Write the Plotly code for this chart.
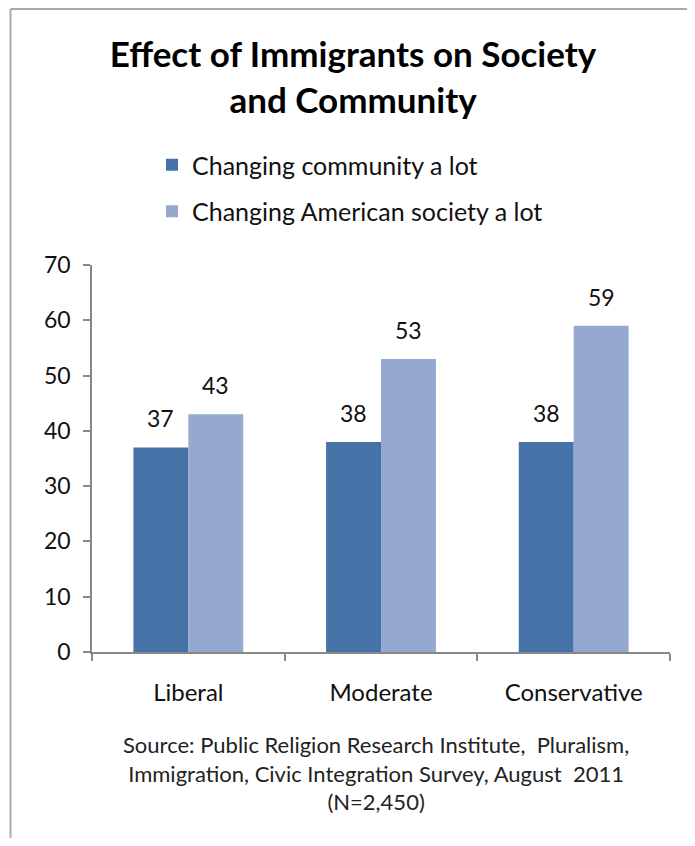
import plotly.graph_objects as go

categories = ["Liberal", "Moderate", "Conservative"]
community = [37, 38, 38]
society = [43, 53, 59]
series_names = ["Changing community a lot", "Changing American society a lot"]
y_ticks = [0, 10, 20, 30, 40, 50, 60, 70]

DARK = "#4572A7"
LIGHT = "#95A9D0"
FONT = "Lato"

OFF = 8  # page (body) margin around the figure in the browser window
W, H = 695 - 2 * OFF, 846 - 2 * OFF

# plot-area geometry (figure pixels)
L, T = 92 - OFF, 265 - OFF
RGT, BOT = 670 - OFF, 652 - OFF
R, B = W - RGT, H - BOT
PW, PH = RGT - L, BOT - T

def px_x(x):
    return (x - OFF - L) / PW

def px_y(y):
    return (BOT - (y - OFF)) / PH

fig = go.Figure()
fig.add_trace(go.Bar(x=categories, y=community, name=series_names[0],
                     marker=dict(color=DARK, line=dict(width=0)),
                     legendgroup="a"))
fig.add_trace(go.Bar(x=categories, y=society, name=series_names[1],
                     marker=dict(color=LIGHT, line=dict(width=0)),
                     legendgroup="b"))

annotations = []
for vals, shift in ((community, -27.5), (society, 27.5)):
    for c, v in zip(categories, vals):
        annotations.append(dict(x=c, y=v, text=str(v), showarrow=False,
                                xshift=shift, yshift=29, xref="x", yref="y",
                                font=dict(family=FONT, size=23, color="#111")))

annotations.append(dict(
    x=px_x(376), y=px_y(729), xref="paper", yref="paper",
    text="Source: Public Religion Research Institute,  Pluralism,<br>"
         "Immigration, Civic Integration Survey, August  2011<br>(N=2,450)",
    showarrow=False, align="center", xanchor="center", yanchor="top",
    font=dict(family=FONT, size=22, color="#222")))

fig.update_layout(
    width=W, height=H,
    margin=dict(l=L, r=R, t=T, b=B, autoexpand=False),
    paper_bgcolor="white", plot_bgcolor="white",
    barmode="group", bargap=0.43, bargroupgap=0,
    title=dict(text="<b>Effect of Immigrants on Society<br>and Community</b>",
               x=(353 - OFF) / W, xanchor="center", y=1 - 59 / H, yanchor="top",
               font=dict(family=FONT, size=35, color="#000")),
    legend=dict(x=px_x(152), y=px_y(142), xanchor="left", yanchor="top",
                traceorder="grouped", tracegroupgap=11, maxheight=600,
                font=dict(family=FONT, size=25, color="#111"),
                bgcolor="rgba(0,0,0,0)"),
    xaxis=dict(showline=True, linecolor="#888", linewidth=1.5,
               ticks="outside", tickson="boundaries", ticklen=7,
               tickcolor="#888", tickwidth=1.5, automargin=False,
               tickfont=dict(family=FONT, size=24, color="#111"),
               ticklabelstandoff=18,
               showgrid=False, fixedrange=True),
    yaxis=dict(range=[0, 70], tickvals=y_ticks, showline=True, linecolor="#888",
               linewidth=1.5, ticks="outside", ticklen=7, tickcolor="#888",
               tickwidth=1.5, showgrid=False, zeroline=False, automargin=False,
               tickfont=dict(family=FONT, size=23, color="#111"),
               ticklabelstandoff=8),
    annotations=annotations,
    shapes=[
        dict(type="line", xref="paper", yref="paper",
             x0=px_x(10.5), x1=px_x(10.5), y0=px_y(9), y1=px_y(H + 40),
             line=dict(color="#aaa", width=2)),
        dict(type="line", xref="paper", yref="paper",
             x0=px_x(10.5), x1=px_x(W + 40), y0=px_y(9), y1=px_y(9),
             line=dict(color="#aaa", width=2)),
    ],
)

fig.write_html("out.html")
